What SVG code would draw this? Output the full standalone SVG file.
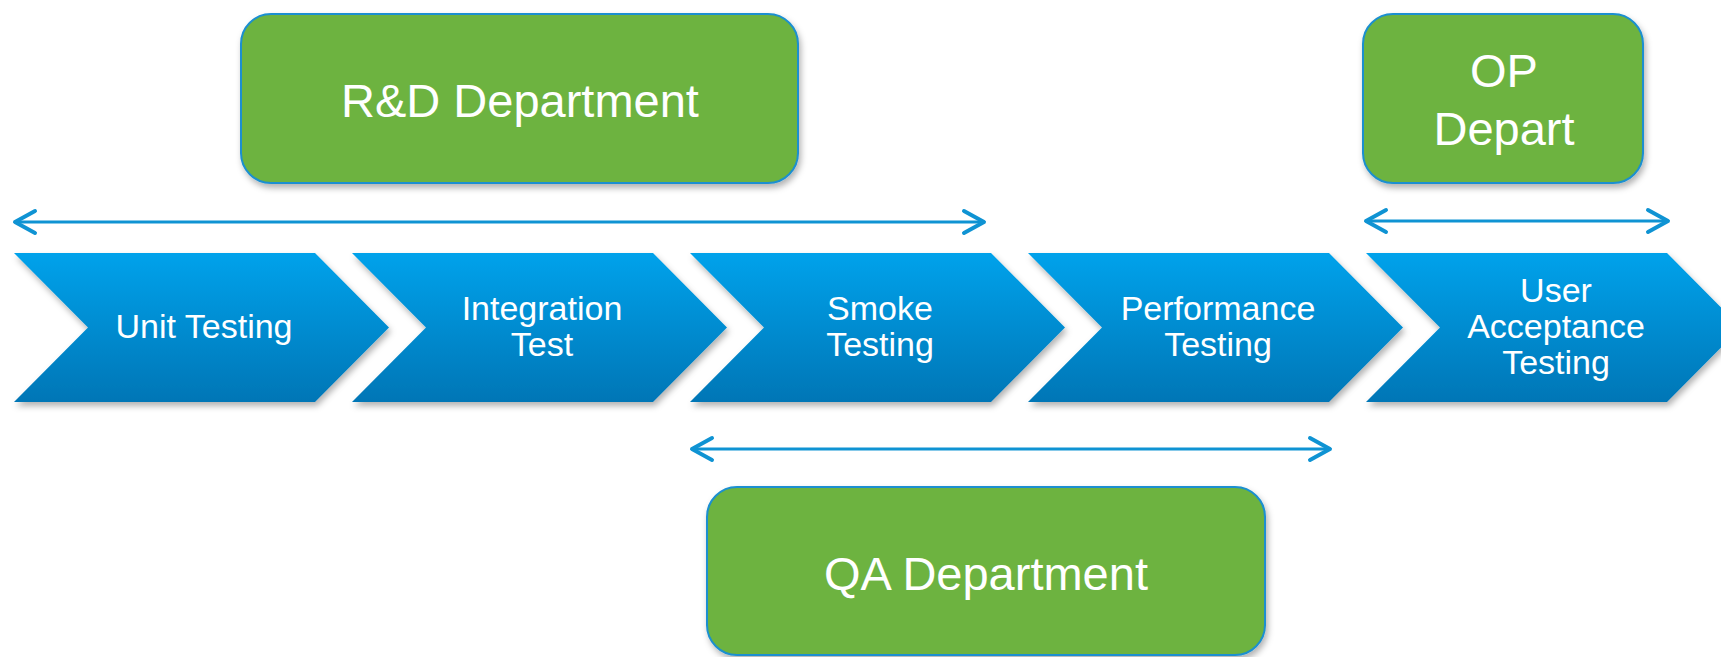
<svg xmlns="http://www.w3.org/2000/svg" width="1721" height="657" viewBox="0 0 1721 657">
<defs>
<linearGradient id="blueGrad" x1="0" y1="0" x2="0" y2="1">
<stop offset="0" stop-color="#00A2EB"/>
<stop offset="1" stop-color="#0076B6"/>
</linearGradient>
<filter id="shadow" x="-10%" y="-10%" width="125%" height="130%">
<feDropShadow dx="2" dy="4" stdDeviation="3" flood-color="#000" flood-opacity="0.3"/>
</filter>
<marker id="head" markerUnits="userSpaceOnUse" markerWidth="30" markerHeight="30" refX="0" refY="0" viewBox="-24 -15 30 30" orient="auto-start-reverse" overflow="visible">
<path d="M -20 -11 L 0 0 L -20 11" fill="none" stroke="#0F93D3" stroke-width="4" stroke-linecap="round" stroke-linejoin="round"/>
</marker>
</defs>
<style>
.chev { fill: url(#blueGrad); filter: url(#shadow); }
.dept { fill: #6DB33F; stroke: #1A8FD0; stroke-width: 2; filter: url(#shadow); }
.ct { font-family: "Liberation Sans", Arial, sans-serif; font-size: 34px; fill: #fff; text-anchor: middle; }
.dt { font-family: "Liberation Sans", Arial, sans-serif; font-size: 47px; fill: #fff; text-anchor: middle; }
.conn { stroke: #0F93D3; stroke-width: 3; fill: none; marker-start: url(#head); marker-end: url(#head); }
</style>

<g id="rd-department">
<rect class="dept" x="241" y="14" width="557" height="169" rx="30" ry="30"/>
<text class="dt" x="520" y="117">R&amp;D Department</text>
</g>

<g id="op-department">
<rect class="dept" x="1363" y="14" width="280" height="169" rx="30" ry="30"/>
<text class="dt" x="1504" y="87">OP</text>
<text class="dt" x="1504" y="145">Depart</text>
</g>

<g id="qa-department">
<rect class="dept" x="707" y="487" width="558" height="168" rx="30" ry="30"/>
<text class="dt" x="986" y="590">QA Department</text>
</g>

<g id="unit-testing">
<path class="chev" d="M 14 253 L 315 253 L 389 327.5 L 315 402 L 14 402 L 88 327.5 Z"/>
<text class="ct" x="204" y="338">Unit Testing</text>
</g>

<g id="integration-test">
<path class="chev" d="M 352 253 L 653 253 L 727 327.5 L 653 402 L 352 402 L 426 327.5 Z"/>
<text class="ct" x="542" y="320">Integration</text>
<text class="ct" x="542" y="356">Test</text>
</g>

<g id="smoke-testing">
<path class="chev" d="M 690 253 L 991 253 L 1065 327.5 L 991 402 L 690 402 L 764 327.5 Z"/>
<text class="ct" x="880" y="320">Smoke</text>
<text class="ct" x="880" y="356">Testing</text>
</g>

<g id="performance-testing">
<path class="chev" d="M 1028 253 L 1329 253 L 1403 327.5 L 1329 402 L 1028 402 L 1102 327.5 Z"/>
<text class="ct" x="1218" y="320">Performance</text>
<text class="ct" x="1218" y="356">Testing</text>
</g>

<g id="user-acceptance-testing">
<path class="chev" d="M 1366 253 L 1667 253 L 1741 327.5 L 1667 402 L 1366 402 L 1440 327.5 Z"/>
<text class="ct" x="1556" y="302">User</text>
<text class="ct" x="1556" y="338">Acceptance</text>
<text class="ct" x="1556" y="374">Testing</text>
</g>

<g id="connectors">
<line class="conn" x1="15" y1="222" x2="984" y2="222"/>
<line class="conn" x1="1366" y1="221" x2="1668" y2="221"/>
<line class="conn" x1="692" y1="449" x2="1330" y2="449"/>
</g>
</svg>
